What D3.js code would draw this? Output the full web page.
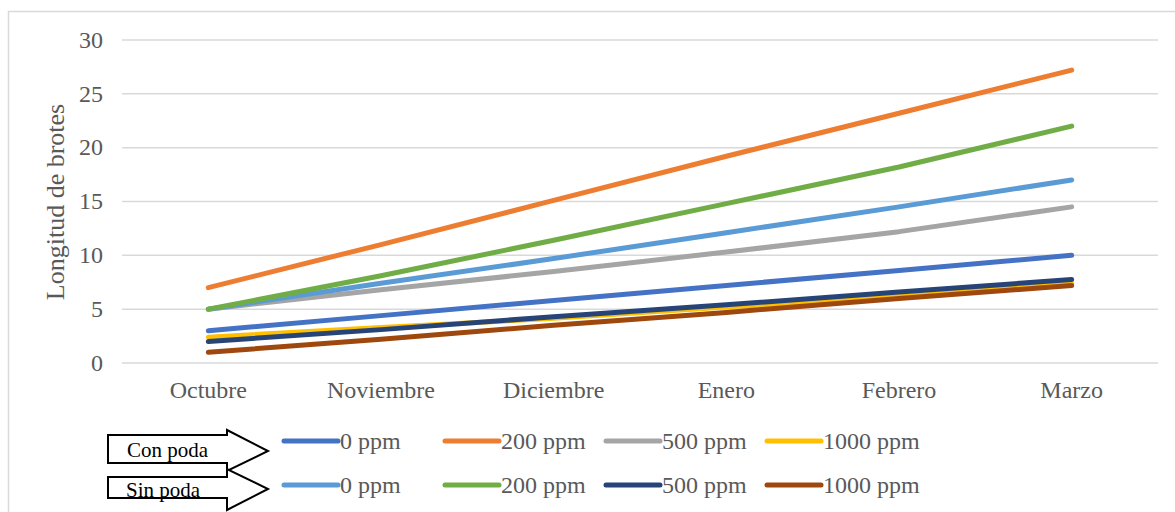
<!DOCTYPE html>
<html>
<head>
<meta charset="utf-8">
<script src="https://cdn.jsdelivr.net/npm/d3@7"></script>
<style>
  body { margin: 0; background: #fff; }
  #main { width: 1175px; height: 512px; overflow: hidden; }
</style>
</head>
<body>
<div id="main"></div>
<script>
// datos
const meses = ["Octubre", "Noviembre", "Diciembre", "Enero", "Febrero", "Marzo"];
const ticksY = [0, 5, 10, 15, 20, 25, 30];

const conPoda0 = [3, 4.4, 5.8, 7.2, 8.6, 10];
const conPoda200 = [7, 11, 15.1, 19.2, 23.2, 27.2];
const conPoda500 = [5, 6.8, 8.5, 10.3, 12.2, 14.5];
const conPoda1000 = [2.4, 3.3, 4.15, 5.2, 6.2, 7.35];

const sinPoda0 = [5, 7.4, 9.7, 12.1, 14.5, 17];
const sinPoda200 = [5, 8.1, 11.4, 14.8, 18.2, 22];
const sinPoda500 = [2, 3.1, 4.3, 5.4, 6.6, 7.75];
const sinPoda1000 = [1, 2.2, 3.5, 4.7, 6.0, 7.2];

const etiquetas = ["0 ppm", "200 ppm", "500 ppm", "1000 ppm"];
const grupos = ["Con poda", "Sin poda"];

const series = [
  { grupo: 0, nombre: etiquetas[0], valores: conPoda0, color: "#4472c4" },
  { grupo: 0, nombre: etiquetas[1], valores: conPoda200, color: "#ed7d31" },
  { grupo: 0, nombre: etiquetas[2], valores: conPoda500, color: "#a5a5a5" },
  { grupo: 0, nombre: etiquetas[3], valores: conPoda1000, color: "#ffc000" },
  { grupo: 1, nombre: etiquetas[0], valores: sinPoda0, color: "#5b9bd5" },
  { grupo: 1, nombre: etiquetas[1], valores: sinPoda200, color: "#70ad47" },
  { grupo: 1, nombre: etiquetas[2], valores: sinPoda500, color: "#264478" },
  { grupo: 1, nombre: etiquetas[3], valores: sinPoda1000, color: "#9e480e" }
];

const FUENTE = "'Liberation Serif', 'Times New Roman', serif";

class GraficoLineas {
  constructor(config) {
    this.config = config;
    this.svg = null;
    this.escalaX = null;
    this.escalaY = null;
    this.createSvg();
  }

  createSvg() {
    this.svg = d3.select(this.config.div)
      .append("svg")
      .attr("width", this.config.width)
      .attr("height", this.config.height)
      .attr("font-family", FUENTE);

    // borde del area del grafico
    this.svg.append("rect")
      .attr("x", 8.5).attr("y", 11.5)
      .attr("width", 1200).attr("height", 600)
      .attr("fill", "none")
      .attr("stroke", "#d9d9d9")
      .attr("stroke-width", 1.5);
  }

  createScales() {
    this.escalaX = d3.scaleBand().domain(meses).range([this.config.left, this.config.right]);
    this.escalaY = d3.scaleLinear().domain([0, 30]).range([this.config.bottom, this.config.top]);
  }

  createAxis() {
    const c = this.config;
    let yAxis = d3.axisLeft(this.escalaY).tickValues(ticksY).tickSize(0).tickPadding(0);

    this.svg.append("g")
      .attr("transform", `translate(${c.left - 19},0)`)
      .call(yAxis)
      .call(g => g.attr("font-family", FUENTE))
      .call(g => g.select(".domain").remove())
      .call(g => g.selectAll(".tick text")
        .attr("font-size", 24)
        .attr("fill", "#595959")
        .attr("dy", "0.3em"));

    // lineas de cuadricula
    this.svg.append("g")
      .selectAll("line")
      .data(ticksY)
      .join("line")
      .attr("x1", c.left)
      .attr("x2", c.right)
      .attr("y1", d => this.escalaY(d))
      .attr("y2", d => this.escalaY(d))
      .attr("stroke", "#d9d9d9")
      .attr("stroke-width", 1.5);

    let xAxis = d3.axisBottom(this.escalaX).tickSize(0).tickPadding(0);
    this.svg.append("g")
      .attr("transform", `translate(0,${c.bottom})`)
      .call(xAxis)
      .call(g => g.attr("font-family", FUENTE))
      .call(g => g.select(".domain").remove())
      .call(g => g.selectAll(".tick text")
        .attr("font-size", 24)
        .attr("fill", "#595959")
        .attr("dy", null)
        .attr("y", 35));

    this.svg.append("text")
      .attr("transform", "translate(64,202) rotate(-90)")
      .attr("text-anchor", "middle")
      .attr("font-family", FUENTE)
      .attr("font-size", 26)
      .attr("fill", "#595959")
      .text("Longitud de brotes");
  }

  renderLines() {
    const x = d => this.escalaX(d) + this.escalaX.bandwidth() / 2;
    const linea = d3.line()
      .x((d, i) => x(meses[i]))
      .y(d => this.escalaY(d));

    this.svg.append("g")
      .selectAll("path")
      .data(series)
      .join("path")
      .attr("d", d => linea(d.valores))
      .attr("fill", "none")
      .attr("stroke", d => d.color)
      .attr("stroke-width", 5)
      .attr("stroke-linecap", "round")
      .attr("stroke-linejoin", "round");
  }

  renderLegend() {
    const filasY = [441, 485];
    const columnas = [284, 445, 606, 767];

    const leyenda = this.svg.append("g");
    leyenda.selectAll("line")
      .data(series)
      .join("line")
      .attr("x1", (d, i) => columnas[i % 4])
      .attr("x2", (d, i) => columnas[i % 4] + 54)
      .attr("y1", d => filasY[d.grupo])
      .attr("y2", d => filasY[d.grupo])
      .attr("stroke", d => d.color)
      .attr("stroke-width", 5)
      .attr("stroke-linecap", "round");

    leyenda.selectAll("text")
      .data(series)
      .join("text")
      .attr("x", (d, i) => columnas[i % 4] + 56)
      .attr("y", d => filasY[d.grupo] + 8)
      .attr("font-family", FUENTE)
      .attr("font-size", 24)
      .attr("fill", "#595959")
      .text(d => d.nombre);

    // flechas "Con poda" / "Sin poda"
    const flechas = [
      { top: 435, bot: 463, hTop: 430, hBot: 471, tip: 451, texto: 457 },
      { top: 477, bot: 498, hTop: 469, hBot: 510, tip: 489, texto: 497 }
    ];
    const g = this.svg.append("g");
    g.selectAll("path")
      .data(flechas)
      .join("path")
      .attr("d", f => `M108,${f.top} L227,${f.top} L227,${f.hTop} L268,${f.tip} L227,${f.hBot} L227,${f.bot} L108,${f.bot} Z`)
      .attr("fill", "#fff")
      .attr("stroke", "#000")
      .attr("stroke-width", 2);
    g.selectAll("text")
      .data(flechas)
      .join("text")
      .attr("x", (f, i) => i === 0 ? 127 : 126)
      .attr("y", f => f.texto)
      .attr("font-family", FUENTE)
      .attr("font-size", 21)
      .attr("fill", "#000")
      .text((f, i) => grupos[i]);
  }
}

function main() {
  let c = { div: "#main", width: 1175, height: 512, top: 40, bottom: 363, left: 122, right: 1158 };
  let grafico = new GraficoLineas(c);
  grafico.createScales();
  grafico.createAxis();
  grafico.renderLines();
  grafico.renderLegend();
}

main();
</script>
</body>
</html>
